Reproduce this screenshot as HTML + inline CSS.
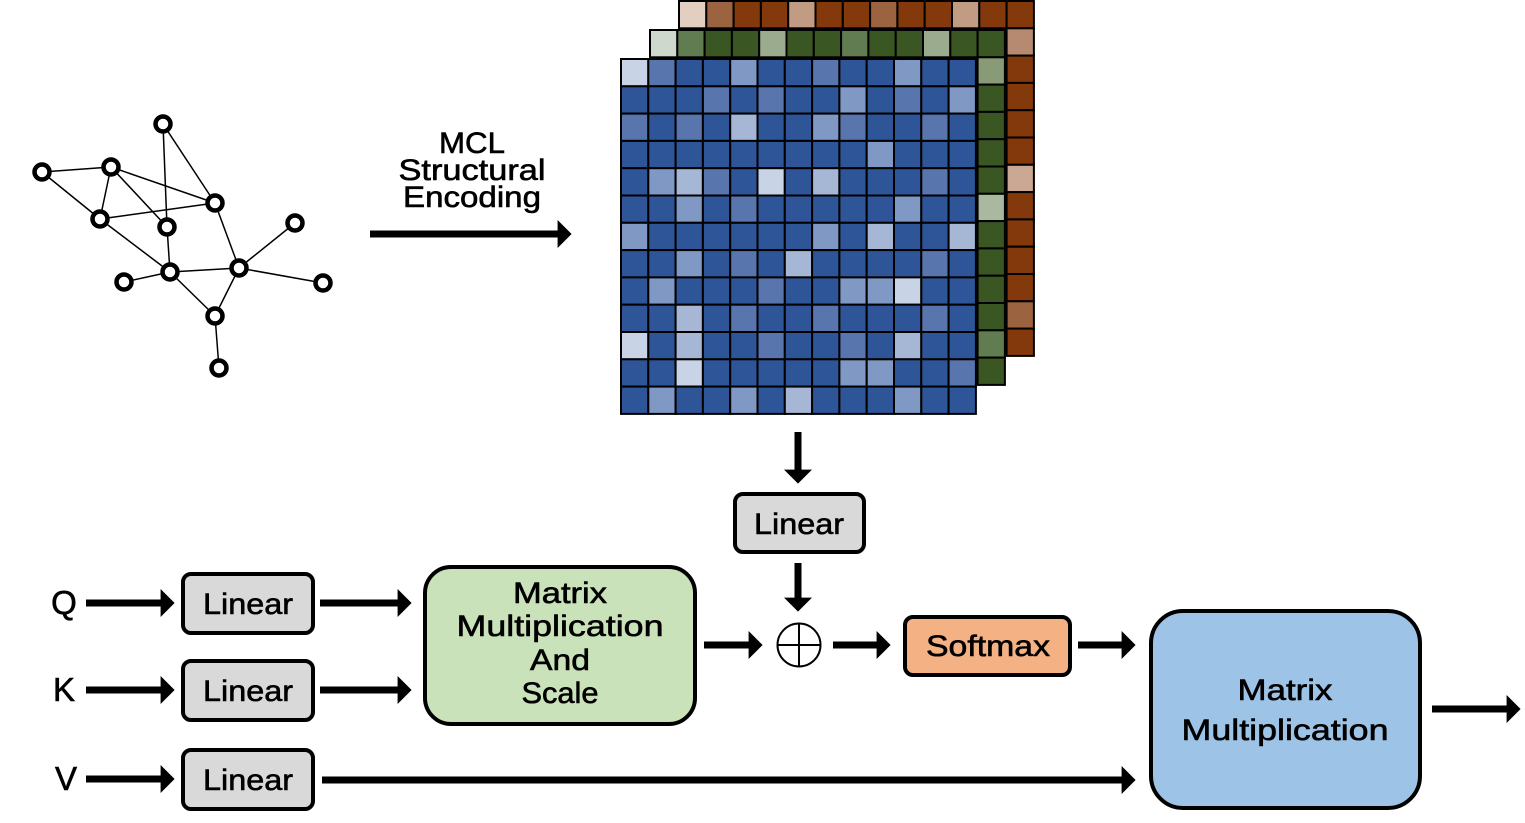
<!DOCTYPE html>
<html><head><meta charset="utf-8"><style>
html,body{margin:0;padding:0;background:#fff;}
svg{display:block;}
text{font-family:"Liberation Sans",sans-serif;fill:#000;stroke:#000;stroke-width:0.6px;}
</style></head><body>
<svg id="s" width="1525" height="823" viewBox="0 0 1525 823" xmlns="http://www.w3.org/2000/svg">
<defs>
<marker id="ah" markerWidth="4" markerHeight="4" refX="1.2" refY="2" orient="auto" markerUnits="strokeWidth">
<path d="M0,0 L2,2 L0,4 z" fill="#000"/>
</marker>
</defs>
<g id="grid"></g>
<g stroke="#000" stroke-width="1.5">
<line x1="42" y1="172" x2="111" y2="167"/>
<line x1="42" y1="172" x2="100" y2="219"/>
<line x1="111" y1="167" x2="100" y2="219"/>
<line x1="111" y1="167" x2="167" y2="227"/>
<line x1="111" y1="167" x2="215" y2="203"/>
<line x1="163" y1="124" x2="167" y2="227"/>
<line x1="163" y1="124" x2="215" y2="203"/>
<line x1="100" y1="219" x2="215" y2="203"/>
<line x1="100" y1="219" x2="170" y2="272"/>
<line x1="167" y1="227" x2="170" y2="272"/>
<line x1="215" y1="203" x2="239" y2="268"/>
<line x1="239" y1="268" x2="295" y2="223"/>
<line x1="239" y1="268" x2="323" y2="283"/>
<line x1="170" y1="272" x2="239" y2="268"/>
<line x1="124" y1="282" x2="170" y2="272"/>
<line x1="170" y1="272" x2="215" y2="316"/>
<line x1="239" y1="268" x2="215" y2="316"/>
<line x1="215" y1="316" x2="219" y2="368"/>
</g>
<g fill="#fff" stroke="#000" stroke-width="4.5">
<circle cx="163" cy="124" r="7.5"/><circle cx="42" cy="172" r="7.5"/><circle cx="111" cy="167" r="7.5"/>
<circle cx="100" cy="219" r="7.5"/><circle cx="167" cy="227" r="7.5"/><circle cx="215" cy="203" r="7.5"/>
<circle cx="295" cy="223" r="7.5"/><circle cx="124" cy="282" r="7.5"/><circle cx="170" cy="272" r="7.5"/>
<circle cx="239" cy="268" r="7.5"/><circle cx="323" cy="283" r="7.5"/><circle cx="215" cy="316" r="7.5"/>
<circle cx="219" cy="368" r="7.5"/>
</g>
<g font-size="30" text-anchor="middle">
<text x="472" y="153" textLength="66" lengthAdjust="spacingAndGlyphs">MCL</text>
<text x="472" y="180" textLength="147" lengthAdjust="spacingAndGlyphs">Structural</text>
<text x="472" y="207" textLength="138" lengthAdjust="spacingAndGlyphs">Encoding</text>
</g>
<g stroke="#000" stroke-width="7" marker-end="url(#ah)" fill="none">
<line x1="370" y1="234" x2="566" y2="234"/>
<line x1="798" y1="432" x2="798" y2="478"/>
<line x1="798" y1="563" x2="798" y2="606"/>
<line x1="86" y1="603" x2="169" y2="603"/>
<line x1="86" y1="690" x2="169" y2="690"/>
<line x1="86" y1="779" x2="169" y2="779"/>
<line x1="320" y1="603" x2="406" y2="603"/>
<line x1="320" y1="690" x2="406" y2="690"/>
<line x1="322" y1="780" x2="1130" y2="780"/>
<line x1="704" y1="645" x2="757" y2="645"/>
<line x1="833" y1="645" x2="885" y2="645"/>
<line x1="1078" y1="645" x2="1130" y2="645"/>
<line x1="1432" y1="709" x2="1515" y2="709"/>
</g>
<g stroke="#000" stroke-width="4">
<rect x="183" y="574" width="130" height="59" rx="8" fill="#d9d9d9"/>
<rect x="183" y="661" width="130" height="59" rx="8" fill="#d9d9d9"/>
<rect x="183" y="750" width="130" height="59" rx="8" fill="#d9d9d9"/>
<rect x="735" y="494" width="129" height="58" rx="8" fill="#d9d9d9"/>
<rect x="425" y="567" width="270" height="157" rx="26" fill="#c9e2b9"/>
<rect x="905" y="617" width="165" height="58" rx="8" fill="#f4b183"/>
<rect x="1151" y="611" width="269" height="197" rx="32" fill="#9dc3e6"/>
</g>
<circle cx="799" cy="645" r="21.5" fill="#fff" stroke="#000" stroke-width="2"/>
<line x1="777.5" y1="645" x2="820.5" y2="645" stroke="#000" stroke-width="2"/>
<line x1="799" y1="623.5" x2="799" y2="666.5" stroke="#000" stroke-width="2"/>
<g font-size="30" text-anchor="middle">
<text x="248" y="614" textLength="90" lengthAdjust="spacingAndGlyphs">Linear</text>
<text x="248" y="701" textLength="90" lengthAdjust="spacingAndGlyphs">Linear</text>
<text x="248" y="790" textLength="90" lengthAdjust="spacingAndGlyphs">Linear</text>
<text x="799" y="534" textLength="90" lengthAdjust="spacingAndGlyphs">Linear</text>
<text x="560" y="603" textLength="94" lengthAdjust="spacingAndGlyphs">Matrix</text>
<text x="560" y="636" textLength="207" lengthAdjust="spacingAndGlyphs">Multiplication</text>
<text x="560" y="670" textLength="60" lengthAdjust="spacingAndGlyphs">And</text>
<text x="560" y="703" textLength="77" lengthAdjust="spacingAndGlyphs">Scale</text>
<text x="988" y="656" textLength="124" lengthAdjust="spacingAndGlyphs">Softmax</text>
<text x="1285" y="700" textLength="95" lengthAdjust="spacingAndGlyphs">Matrix</text>
<text x="1285" y="740" textLength="207" lengthAdjust="spacingAndGlyphs">Multiplication</text>
<text x="64" y="614" font-size="33">Q</text>
<text x="64" y="701" font-size="33">K</text>
<text x="66" y="790" font-size="33">V</text>
</g>
</svg>
<script>
(function(){
var g=document.getElementById('grid');var ns='http://www.w3.org/2000/svg';
var c=27.3;
function rect(x,y,f){var r=document.createElementNS(ns,'rect');r.setAttribute('x',x);r.setAttribute('y',y);r.setAttribute('width',c);r.setAttribute('height',c);r.setAttribute('fill',f);r.setAttribute('stroke','#000');r.setAttribute('stroke-width','2');g.appendChild(r);}
var B=['#84390d','#9c6340','#c19b82','#e2cfc2'];
var Bs=['#84390d','#b58a70','#caa893','#9c6340'];
var tb=[3,1,0,0,2,0,0,1,0,0,2,0,0];
for(var i=0;i<13;i++)rect(679+i*c,1,B[tb[i]]);
var sb=[1,0,0,0,0,2,0,0,0,0,3,0];
for(var j=0;j<12;j++)rect(679+12*c,1+(j+1)*c,Bs[sb[j]]);
var G=['#3a5622','#617c50','#9aab8e','#cfd8cc'];
var Gs=['#3a5622','#889b76','#a9b89f','#617c50'];
for(var i=0;i<13;i++)rect(650+i*c,30,G[tb[i]]);
for(var j=0;j<12;j++)rect(650+12*c,30+(j+1)*c,Gs[sb[j]]);
var L=['#2e5597','#5875ae','#7f98c4','#a6b7d6','#c8d3e6'];
var M=[
[4,1,0,0,2,0,0,1,0,0,2,0,0],
[0,0,0,1,0,1,0,0,2,0,1,0,2],
[1,0,1,0,3,0,0,2,1,0,0,1,0],
[0,0,0,0,0,0,0,0,0,2,0,0,0],
[0,2,3,1,0,4,0,3,0,0,0,1,0],
[0,0,2,0,1,0,0,0,0,0,2,0,0],
[2,0,0,0,0,0,0,2,0,3,0,0,3],
[0,0,2,0,1,0,3,0,0,0,0,1,0],
[0,2,0,0,0,1,0,0,2,2,4,0,0],
[0,0,3,0,1,0,0,1,0,0,0,1,0],
[4,0,3,0,0,1,0,0,1,0,3,0,0],
[0,0,4,0,0,0,0,0,2,2,0,0,1],
[0,2,0,0,2,0,3,0,0,0,2,0,0]];
for(var r=0;r<13;r++)for(var k=0;k<13;k++)rect(621+k*c,59+r*c,L[M[r][k]]);
})();
</script>
</body></html>
